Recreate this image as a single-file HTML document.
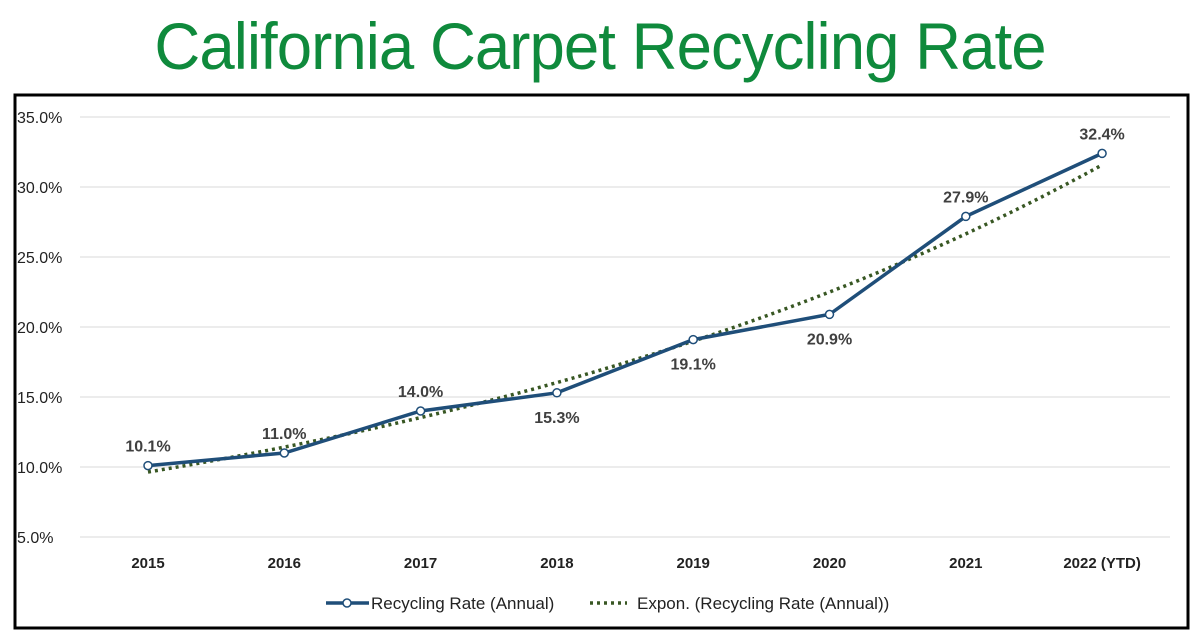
<!DOCTYPE html>
<html><head><meta charset="utf-8"><style>
body{margin:0;width:1200px;height:638px;background:#fff;overflow:hidden;font-family:"Liberation Sans",sans-serif}
#title{position:absolute;left:0;top:8px;width:1200px;text-align:center;color:#0f8a3c;font-size:66px;letter-spacing:-1px;line-height:76px;transform:scaleX(0.963);transform-origin:600px 0}
svg{position:absolute;left:0;top:0}
</style></head><body>
<div id="title">California Carpet Recycling Rate</div>
<svg id="c" width="1200" height="638"></svg>
<script>
const categories=["2015","2016","2017","2018","2019","2020","2021","2022 (YTD)"];
const rates=[10.1,11.0,14.0,15.3,19.1,20.9,27.9,32.4];
const labelBelow=[false,false,false,true,true,true,false,false];
const yTicks=[5,10,15,20,25,30,35];
const NS="http://www.w3.org/2000/svg";
const svg=document.getElementById('c');
const X0=148,DX=136.3,Y0=537,PY=14;
const xs=i=>X0+i*DX, ys=v=>Y0-(v-5)*PY;
function mk(t,a,p){const e=document.createElementNS(NS,t);for(const k in a)e.setAttribute(k,a[k]);(p||svg).appendChild(e);return e;}
let b=mk('rect',{x:15,y:95,width:1173,height:533,fill:'none',stroke:'#000','stroke-width':3});


yTicks.forEach(v=>{
 let l=mk('line',{x1:80,x2:1170,y1:ys(v),y2:ys(v),stroke:'#d9d9d9','stroke-width':1});
 
 
 let t=mk('text',{x:17,y:ys(v)+6,'font-size':16,fill:'#222'});t.textContent=v.toFixed(1)+'%';
 
 
});
categories.forEach((c,i)=>{
 let t=mk('text',{x:xs(i),y:568,'font-size':15,'font-weight':'bold','text-anchor':'middle',fill:'#222'});t.textContent=c;
 
 
});
const n=rates.length;let sx=0,sy=0,sxx=0,sxy=0;
rates.forEach((v,i)=>{const ly=Math.log(v);sx+=i;sy+=ly;sxx+=i*i;sxy+=i*ly;});
const bb=(n*sxy-sx*sy)/(n*sxx-sx*sx),aa=(sy-bb*sx)/n;
let tp=[];for(let k=0;k<=70;k++){const i=k/10;tp.push(xs(i)+','+ys(Math.exp(aa+bb*i)));}
let tr=mk('polyline',{points:tp.join(' '),fill:'none',stroke:'#385723','stroke-width':3.5,'stroke-dasharray':'3 4'});


let ln=mk('polyline',{points:rates.map((v,i)=>xs(i)+','+ys(v)).join(' '),fill:'none',stroke:'#1f4e79','stroke-width':3.5});


rates.forEach((v,i)=>{
 let p=mk('circle',{cx:xs(i),cy:ys(v),r:4,fill:'#fff',stroke:'#1f4e79','stroke-width':1.5});
 
 
 let t=mk('text',{x:xs(i),y:labelBelow[i]?ys(v)+30:ys(v)-14,'font-size':16,'font-weight':'bold','text-anchor':'middle',fill:'#404040'});
 t.textContent=v.toFixed(1)+'%';
 
 
});
let g=mk('g',{});


mk('line',{x1:326,x2:369,y1:603,y2:603,stroke:'#1f4e79','stroke-width':3.5},g);
mk('circle',{cx:347,cy:603,r:4,fill:'#fff',stroke:'#1f4e79','stroke-width':1.5},g);
let t1=mk('text',{x:371,y:609,'font-size':17,fill:'#222'},g);t1.textContent='Recycling Rate (Annual)';
mk('line',{x1:590,x2:627,y1:603,y2:603,stroke:'#385723','stroke-width':3.5,'stroke-dasharray':'3 4'},g);
let t2=mk('text',{x:637,y:609,'font-size':17,fill:'#222'},g);t2.textContent='Expon. (Recycling Rate (Annual))';
</script>
</body></html>
